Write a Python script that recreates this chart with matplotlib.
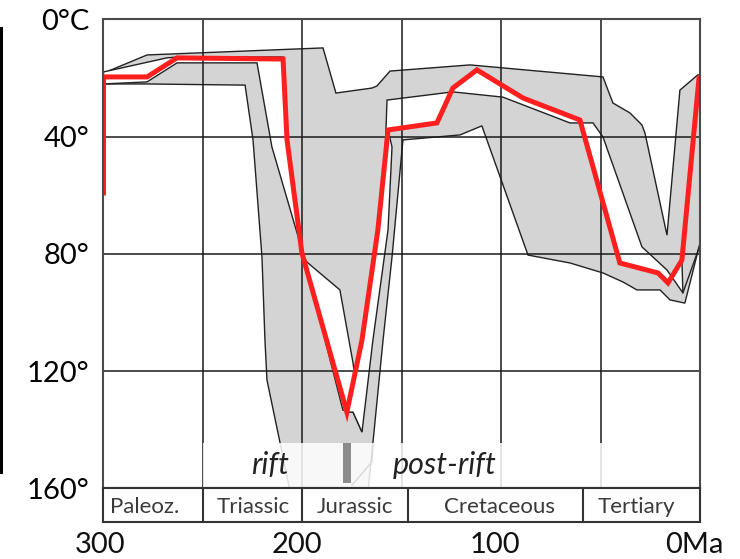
import matplotlib.pyplot as plt
from matplotlib.lines import Line2D
from matplotlib.patches import Rectangle

plt.rcParams['font.family'] = ['Lato', 'DejaVu Sans']

# best-fit thermal path (age in Ma, temperature in °C)
best_ma = [300, 300, 278.1, 263.0, 209.7, 207.7, 200.2, 177.6, 170.0, 162.0, 157.4,
           156.9, 132.3, 124.3, 112.2, 89.0, 60.4, 40.3, 21.1, 16.1, 9.1, 0.5]
best_t = [59.2, 19.6, 19.6, 13.1, 13.5, 41.1, 79.7, 134.0, 109.4, 71.8, 41.1,
          37.7, 35.3, 23.4, 17.2, 26.8, 34.3, 83.1, 86.5, 89.9, 82.1, 20.0]

# acceptable-fit envelope: cool side (old -> young), hot side (young -> old)
outer_top_ma = [300, 278.1, 189.6, 183.1, 165.0, 162.5, 155.9, 115.7, 48.8, 43.8,
                35.2, 29.2, 27.7, 16.6, 10.1, 1.1, 0]
outer_top_t = [18.3, 12.1, 9.7, 25.1, 23.4, 22.7, 17.6, 15.5, 19.6, 28.5,
               31.9, 36.0, 38.7, 73.6, 24.1, 18.9, 18.9]
outer_bot_ma = [0, 7.6, 15.1, 20.1, 31.7, 38.7, 48.8, 65.4, 86.5, 109.7, 120.7,
                149.4, 154.9, 159.4, 164.5, 168.0, 204.2, 211.2, 217.8, 218.8,
                220.3, 224.8, 228.8, 278.1, 300]
outer_bot_t = [76.3, 96.8, 95.7, 92.3, 92.3, 89.6, 86.5, 83.1, 80.4, 36.3, 39.4,
               41.1, 81.1, 109.4, 144.5, 167.7, 167.7, 144.5, 123.0, 109.4,
               81.1, 41.1, 22.4, 22.0, 22.0]

# good-fit envelope, pre-rift / rift part
good1_ma = [300, 268.1, 262.5, 209.7, 207.7, 200.2, 197.7, 181.1, 174.5, 170.0,
            174.5, 179.6, 199.7, 215.3, 222.8, 263.0, 278.1, 300]
good1_t = [17.9, 13.1, 12.8, 12.8, 41.1, 79.7, 82.8, 92.3, 117.2, 140.8,
           134.0, 133.3, 79.7, 43.5, 14.8, 14.8, 21.3, 22.0]

# good-fit envelope, post-rift part
good2_ma = [177.6, 170.0, 162.0, 158.4, 157.4, 124.3, 99.1, 65.4, 53.8, 48.8, 29.2,
            16.6, 8.6, 9.1, 16.1, 21.1, 40.3, 60.4, 89.0, 112.2, 124.3, 132.3,
            156.9, 154.9, 156.9, 164.5, 170.0, 174.5]
good2_t = [134.0, 109.4, 71.8, 46.2, 27.5, 24.7, 26.5, 35.3, 35.3, 40.1, 77.6,
           85.5, 93.3, 82.1, 89.9, 86.5, 83.1, 34.3, 26.8, 17.2, 23.4, 35.3,
           37.7, 43.5, 71.8, 109.4, 140.8, 134.0]
good_tail_ma = [8.6, 0]
good_tail_t = [93.3, 77.0]

periods = ['Paleoz.', 'Triassic', 'Jurassic', 'Cretaceous', 'Tertiary']
period_edges = [250, 200, 147, 59]
period_label_ma = [279.1, 224.8, 173.5, 100.6, 32.2]

temp_ticks = [0, 40, 80, 120, 160]
temp_labels = ['0°C', '40°', '80°', '120°', '160°']
age_labels = ['300', '200', '100', '0Ma']
age_label_ma = [301.8, 202.7, 103.1, 3.0]
grid_ma = [250, 200, 150, 100, 50]
grid_t = [40, 80, 120]

# rift / post-rift band
band_ma = (250, 47)
band_t = (144.5, 160)
rift_bar_ma = (179.6, 175.5)
rift_bar_t = (144.6, 158.3)

fig = plt.figure(figsize=(7.4, 5.59), dpi=100)
ax = fig.add_axes([0.13986, 0.12648, 0.80608, 0.83864])
ax2 = fig.add_axes([0.13986, 0.06619, 0.80608, 0.06029])

ax.set_xlim(300, 0)
ax.set_ylim(160, 0)

for m in grid_ma:
    ax.axvline(m, color='#1a1a1a', lw=1.1, zorder=2.5)
for t in grid_t:
    ax.axhline(t, color='#1a1a1a', lw=1.1, zorder=2.5)

ax.fill(outer_top_ma + outer_bot_ma, outer_top_t + outer_bot_t,
        facecolor='#d4d4d4', edgecolor='#222222', lw=1.0, zorder=1)
ax.fill(good1_ma, good1_t, facecolor='white', edgecolor='#222222', lw=1.0, zorder=2)
ax.fill(good2_ma, good2_t, facecolor='white', edgecolor='#222222', lw=1.0, zorder=2)
ax.plot(good_tail_ma, good_tail_t, color='#222222', lw=1.0, zorder=2)

ax.plot(best_ma, best_t, color='#ff1f1f', lw=3.6, solid_joinstyle='miter', zorder=3)

# rift band on top of everything in the lower strip
ax.add_patch(Rectangle((band_ma[0], band_t[0]), band_ma[1] - band_ma[0],
                       band_t[1] - band_t[0], facecolor='white', alpha=0.85,
                       edgecolor='none', zorder=4))
ax.add_patch(Rectangle((rift_bar_ma[0], rift_bar_t[0]), rift_bar_ma[1] - rift_bar_ma[0],
                       rift_bar_t[1] - rift_bar_t[0], facecolor='#8c8c8c',
                       edgecolor='none', zorder=5))
ax.plot([175.0, 165.0, 164.5], [158.9, 151.0, 145.2], color='#d8d8d8', lw=1.0, zorder=5)
ax.text(216.2, 155.0, 'rift', style='italic', fontsize=22, color='#222222',
        ha='center', va='baseline', zorder=6)
ax.text(128.3, 155.0, 'post-rift', style='italic', fontsize=22, color='#222222',
        ha='center', va='baseline', zorder=6)

ax.set_yticks(temp_ticks)
ax.set_yticklabels(temp_labels)
ax.set_xticks([])
ax.tick_params(axis='y', length=0, pad=10, labelsize=21)
for s in ax.spines.values():
    s.set_color('#4a4a4a')
    s.set_linewidth(1.5)
    s.set_zorder(7)

# period strip
ax2.set_xlim(300, 0)
ax2.set_ylim(0, 1)
ax2.set_xticks([])
ax2.set_yticks([])
for s in ax2.spines.values():
    s.set_color('#333333')
    s.set_linewidth(1.5)
for e in period_edges:
    ax2.axvline(e, color='#333333', lw=1.5)
for name, m in zip(periods, period_label_ma):
    ax2.text(m, 0.45, name, fontsize=16, color='#3a3a3a', ha='center', va='center')
for lab, m in zip(age_labels, age_label_ma):
    ax2.text(m, -0.68, lab, fontsize=21, color='#111111', ha='center', va='center',
             transform=ax2.get_xaxis_transform())

fig.add_artist(Line2D([0.002, 0.002], [1 - 28 / 559, 1 - 472 / 559],
                      color='black', lw=2.2))

fig.savefig('out.png', dpi=100)
